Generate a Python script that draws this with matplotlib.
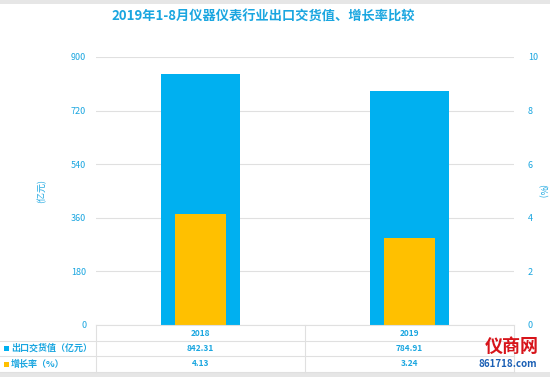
import matplotlib

matplotlib.use("Agg")
import matplotlib.pyplot as plt
from matplotlib.lines import Line2D
from matplotlib.patches import Rectangle

plt.rcParams["font.family"] = ["Noto Sans CJK SC", "DejaVu Sans"]

# data
years = ["2018", "2019"]
export_value = [842.31, 784.91]  # 亿元
growth_rate = [4.13, 3.24]  # %
left_ticks = [0, 180, 360, 540, 720, 900]
right_ticks = [0, 2, 4, 6, 8, 10]
row_labels = ["出口交货值（亿元）", "增长率（%）"]

BLUE = "#00b0f0"
YELLOW = "#ffc000"
TXT = "#1aa6e0"
GRID = "#e0e0e0"

W, H = 550, 377
fig = plt.figure(figsize=(W / 100, H / 100), dpi=100)


def fx(px):
    return px / W


def fy(py):
    return 1 - py / H


# grey bands at top and bottom of the picture
fig.add_artist(Rectangle((0, fy(4)), 1, 4 / H, transform=fig.transFigure,
                         color="#e6e6e6", lw=0))
fig.add_artist(Rectangle((0, 0), 1, 5 / H, transform=fig.transFigure,
                         color="#e6e6e6", lw=0))

x0, x1, ytop, ybot = 96, 514, 57, 325
ax = fig.add_axes([fx(x0), fy(ybot), fx(x1 - x0), (ybot - ytop) / H])
ax2 = ax.twinx()

xs = list(range(len(years)))
ax.bar(xs, export_value, width=0.38, color=BLUE, zorder=2)
ax2.bar(xs, growth_rate, width=0.24, color=YELLOW, zorder=2)

ax.set_xlim(-0.5, len(years) - 0.5)
ax.set_ylim(0, 900)
ax2.set_ylim(0, 10)
ax.set_yticks(left_ticks)
ax2.set_yticks(right_ticks)
ax.set_xticks([])
for a in (ax, ax2):
    for s in a.spines.values():
        s.set_visible(False)
ax.tick_params(axis="y", length=0, labelsize=6.5, labelcolor=TXT, pad=7)
ax2.tick_params(axis="y", length=0, labelsize=6.5, labelcolor=TXT, pad=10)
ax.yaxis.grid(True, color=GRID, lw=0.8)
ax.set_axisbelow(True)
ax.set_ylabel("(亿元)", color=TXT, fontsize=6.5, labelpad=18)
ax2.set_ylabel("(%)", color=TXT, fontsize=6.5, labelpad=6, rotation=270)

fig.text(fx(263), fy(17), "2019年1-8月仪器仪表行业出口交货值、增长率比较",
         ha="center", va="center", color=TXT, fontsize=9.5, fontweight="bold")

# data table under the chart
rows_y = [325, 341, 356, 372]
col_x = [x0, 305, x1]
line_kw = dict(transform=fig.transFigure, color=GRID, lw=0.8)
fig.add_artist(Line2D([fx(x0), fx(x1)], [fy(rows_y[0])] * 2, **line_kw))
for ry in rows_y[1:]:
    fig.add_artist(Line2D([0, fx(x1)], [fy(ry)] * 2, **line_kw))
for cx in col_x:
    fig.add_artist(Line2D([fx(cx)] * 2, [fy(rows_y[0]), fy(rows_y[-1])], **line_kw))

for i, yr in enumerate(years):
    cx = (col_x[i] + col_x[i + 1]) / 2
    fig.text(fx(cx), fy((rows_y[0] + rows_y[1]) / 2), yr, ha="center",
             va="center", fontsize=6, color=TXT, fontweight="bold")
    fig.text(fx(cx), fy((rows_y[1] + rows_y[2]) / 2), f"{export_value[i]:.2f}",
             ha="center", va="center", fontsize=6, color=TXT, fontweight="bold")
    fig.text(fx(cx), fy((rows_y[2] + rows_y[3]) / 2), f"{growth_rate[i]:.2f}",
             ha="center", va="center", fontsize=6, color=TXT, fontweight="bold")

for r, (lab, col) in enumerate(zip(row_labels, [BLUE, YELLOW])):
    yc = fy((rows_y[r + 1] + rows_y[r + 2]) / 2)
    fig.add_artist(Rectangle((fx(4), yc - 2.5 / H), 5 / W, 5 / H,
                             transform=fig.transFigure, color=col, lw=0))
    fig.text(fx(11), yc, lab, ha="left", va="center", fontsize=6.5,
             color=TXT, fontweight="bold")

# watermark
fig.text(fx(512), fy(346), "仪商网", ha="center", va="center", fontsize=13,
         color="#d7141a", fontweight="bold")
fig.text(fx(508), fy(364), "861718.com", ha="center", va="center", fontsize=7,
         color="#1a5fb4", fontweight="bold", style="italic")

fig.savefig("out.png", dpi=100)
